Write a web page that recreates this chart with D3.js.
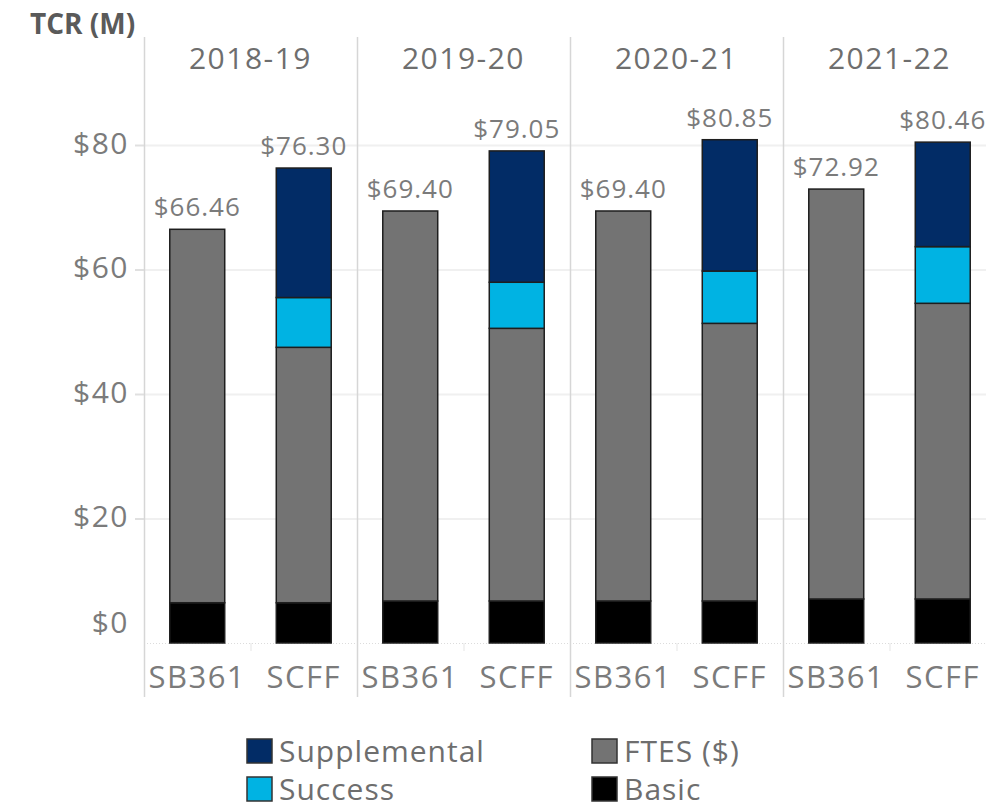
<!DOCTYPE html>
<html>
<head>
<meta charset="utf-8">
<script src="https://cdn.jsdelivr.net/npm/d3@7"></script>
<style>
  html, body { margin: 0; padding: 0; background: #fff; }
  svg { display: block; font-family: "Open Sans", "Noto Sans", sans-serif; }
</style>
</head>
<body>
<svg id="chart" width="986" height="810"></svg>
<script>
// ---- data ----
const years = ["2018-19", "2019-20", "2020-21", "2021-22"];
const models = ["SB361", "SCFF"];
const sb361Basic = [6.47, 6.75, 6.75, 7.07];
const sb361FTES = [59.99, 62.65, 62.65, 65.85];
const scffBasic = [6.47, 6.75, 6.75, 7.07];
const scffFTES = [41.03, 43.80, 44.60, 47.50];
const scffSuccess = [8.00, 7.40, 8.40, 9.10];
const scffSupplemental = [20.80, 21.10, 21.10, 16.79];
const sb361Total = [66.46, 69.40, 69.40, 72.92];
const scffTotal = [76.30, 79.05, 80.85, 80.46];
const yTicks = [0, 20, 40, 60, 80];
const seriesKeys = ["Basic", "FTES ($)", "Success", "Supplemental"];
const seriesColors = ["#000000", "#737373", "#00b3e3", "#022c66"];
const legendOrder = ["Supplemental", "FTES ($)", "Success", "Basic"];

// build rows
const rows = [];
years.forEach((yr, i) => {
  rows.push({year: yr, model: "SB361", "Basic": sb361Basic[i], "FTES ($)": sb361FTES[i], "Success": 0, "Supplemental": 0, total: sb361Total[i]});
  rows.push({year: yr, model: "SCFF", "Basic": scffBasic[i], "FTES ($)": scffFTES[i], "Success": scffSuccess[i], "Supplemental": scffSupplemental[i], total: scffTotal[i]});
});

const svg = d3.select("#chart");
const color = d3.scaleOrdinal().domain(seriesKeys).range(seriesColors);

const panelLeft = 144, panelW = 213;
const xYear = d3.scaleBand().domain(years).range([panelLeft, panelLeft + panelW * years.length]).padding(0);
const xModel = d3.scaleBand().domain(models).range([0, panelW]).paddingInner(0.484).paddingOuter(0.242);
const y = d3.scaleLinear().domain([0, 80]).range([643, 145]);

const divTop = 37, divBottom = 697;

// gridlines
svg.append("g").selectAll("line").data(yTicks.filter(d => d > 0)).join("line")
  .attr("x1", panelLeft).attr("x2", 986)
  .attr("y1", d => y(d) + 0.5).attr("y2", d => y(d) + 0.5)
  .attr("stroke", "#f0f0f0").attr("stroke-width", 2);

// zero line dotted
svg.append("line").attr("x1", panelLeft).attr("x2", 986)
  .attr("y1", y(0) + 0.5).attr("y2", y(0) + 0.5)
  .attr("stroke", "#dcdcdc").attr("stroke-width", 1).attr("stroke-dasharray", "1,2");

// y axis
const yAxis = d3.axisLeft(y).tickValues(yTicks).tickSize(9).tickPadding(6).tickFormat(d => "$" + d);
const gy = svg.append("g").attr("transform", `translate(${panelLeft},0)`).call(yAxis);
gy.select(".domain").remove();
gy.selectAll(".tick line").attr("stroke", "#e0e0e0").attr("stroke-width", 2);
gy.selectAll(".tick text")
  .attr("font-size", 30).attr("fill", "#7b7b7b")
  .attr("font-family", "'Open Sans', sans-serif")
  .attr("letter-spacing", 1.5)
  .attr("dy", d => d === 0 ? "-0.35em" : "0.28em");
gy.selectAll(".tick").filter(d => d === 0).select("line").remove();

// panel dividers
svg.append("g").selectAll("line").data(years).join("line")
  .attr("x1", d => xYear(d) + 0.5).attr("x2", d => xYear(d) + 0.5)
  .attr("y1", divTop).attr("y2", divBottom)
  .attr("stroke", "#d6d6d6").attr("stroke-width", 1.5);

// small bottom ticks at panel centres
svg.append("g").selectAll("line").data(years).join("line")
  .attr("x1", d => xYear(d) + panelW / 2 + 0.5).attr("x2", d => xYear(d) + panelW / 2 + 0.5)
  .attr("y1", y(0)).attr("y2", y(0) + 8)
  .attr("stroke", "#eeeeee").attr("stroke-width", 1.5);

// headers
svg.append("g").selectAll("text").data(years).join("text")
  .attr("x", d => xYear(d) + panelW / 2).attr("y", 69)
  .attr("text-anchor", "middle").attr("font-size", 30).attr("fill", "#6e6e6e")
  .attr("letter-spacing", 1.5)
  .text(d => d);

// TCR label
svg.append("text").attr("x", 30).attr("y", 34)
  .attr("font-size", 28).attr("font-weight", "bold").attr("fill", "#5a5a5a")
  .text("TCR (M)");

// stacked bars
const stack = d3.stack().keys(seriesKeys);
const stacked = stack(rows);
const gBars = svg.append("g");
stacked.forEach(layer => {
  gBars.append("g").selectAll("rect")
    .data(layer.filter(d => d[1] - d[0] > 0))
    .join("rect")
    .attr("x", d => xYear(d.data.year) + xModel(d.data.model))
    .attr("width", xModel.bandwidth())
    .attr("y", d => y(d[1]))
    .attr("height", d => y(d[0]) - y(d[1]))
    .attr("fill", color(layer.key))
    .attr("stroke", "#1e1e1e").attr("stroke-width", 1.5);
});

// totals
svg.append("g").selectAll("text").data(rows).join("text")
  .attr("x", d => xYear(d.year) + xModel(d.model) + xModel.bandwidth() / 2)
  .attr("y", d => y(d.total) - 13)
  .attr("text-anchor", "middle").attr("font-size", 26).attr("fill", "#7b7b7b")
  .attr("letter-spacing", 1)
  .text(d => "$" + d3.format(".2f")(d.total));

// category labels
const catRows = years.flatMap(yr => models.map(m => ({year: yr, model: m})));
svg.append("g").selectAll("text").data(catRows).join("text")
  .attr("x", d => xYear(d.year) + xModel(d.model) + xModel.bandwidth() / 2)
  .attr("y", 688)
  .attr("text-anchor", "middle").attr("font-size", 31).attr("fill", "#7b7b7b")
  .attr("letter-spacing", 1.5)
  .text(d => d.model);

// legend
const legPos = [
  {x: 247, y: 739}, {x: 592, y: 739},
  {x: 247, y: 777}, {x: 592, y: 777}
];
const gLeg = svg.append("g");
legendOrder.forEach((k, i) => {
  const p = legPos[i];
  gLeg.append("rect").attr("x", p.x).attr("y", p.y).attr("width", 25).attr("height", 24)
    .attr("fill", color(k)).attr("stroke", "#333").attr("stroke-width", 1.5);
  gLeg.append("text").attr("x", p.x + 32).attr("y", p.y + 23)
    .attr("font-size", 30).attr("fill", "#6e6e6e")
    .attr("letter-spacing", 1)
    .text(k);
});
</script>
</body>
</html>
